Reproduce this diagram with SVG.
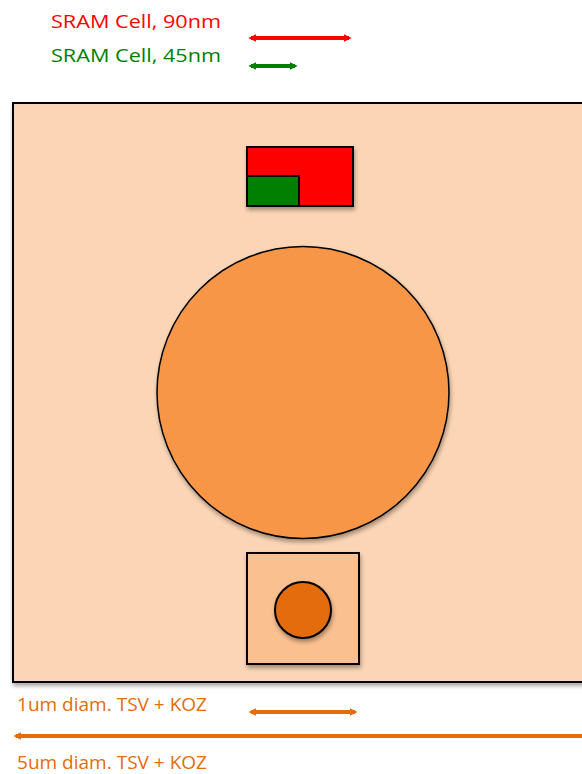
<svg xmlns="http://www.w3.org/2000/svg" width="582" height="774" viewBox="0 0 582 774">
<defs>
<style>
.lbl{font-family:"Open Sans","Liberation Sans",sans-serif;font-size:19px}
.sh{filter:url(#shadow)}
</style>
<filter id="shadow" x="-10%" y="-10%" width="130%" height="130%">
<feGaussianBlur in="SourceAlpha" stdDeviation="2"/>
<feOffset dx="1" dy="3" result="b"/>
<feComponentTransfer><feFuncA type="linear" slope="0.35"/></feComponentTransfer>
<feMerge><feMergeNode/><feMergeNode in="SourceGraphic"/></feMerge>
</filter>
<marker id="aR" viewBox="0 0 6 6" refX="4" refY="3" markerWidth="2" markerHeight="2" orient="auto-start-reverse"><path d="M0,0 L6,3 L0,6 z" fill="#FF0000"/></marker>
<marker id="aG" viewBox="0 0 6 6" refX="4" refY="3" markerWidth="2" markerHeight="2" orient="auto-start-reverse"><path d="M0,0 L6,3 L0,6 z" fill="#007F00"/></marker>
<marker id="aO" viewBox="0 0 6 6" refX="4" refY="3" markerWidth="2" markerHeight="2" orient="auto-start-reverse"><path d="M0,0 L6,3 L0,6 z" fill="#E46C0A"/></marker>
</defs>
<rect width="582" height="774" fill="#FFFFFF"/>
<g id="die">
<rect class="sh" x="13" y="103" width="580" height="579" fill="#FBD5B5" stroke="#000" stroke-width="2"/>
</g>
<g id="sram90">
<rect class="sh" x="247" y="147" width="106" height="59" fill="#FF0000" stroke="#000" stroke-width="2"/>
</g>
<g id="sram45">
<rect x="247" y="176" width="52" height="30" fill="#007F00" stroke="#000" stroke-width="2"/>
</g>
<g id="tsv5">
<circle class="sh" cx="303" cy="392.5" r="146" fill="#F79646" stroke="#000" stroke-width="1.5"/>
</g>
<g id="koz1">
<rect class="sh" x="247" y="553" width="112" height="111" fill="#FAC090" stroke="#000" stroke-width="2"/>
</g>
<g id="tsv1">
<circle class="sh" cx="303" cy="610" r="28" fill="#E46C0A" stroke="#000" stroke-width="2"/>
</g>
<g id="legend">
<text class="lbl" x="51" y="28" fill="#FF0000" textLength="170" lengthAdjust="spacingAndGlyphs">SRAM Cell, 90nm</text>
<text class="lbl" x="51" y="62" fill="#007F00" textLength="170" lengthAdjust="spacingAndGlyphs">SRAM Cell, 45nm</text>
<text class="lbl" x="17" y="711" fill="#E46C0A" textLength="190" lengthAdjust="spacingAndGlyphs">1um diam. TSV + KOZ</text>
<text class="lbl" x="17" y="769" fill="#E46C0A" textLength="190" lengthAdjust="spacingAndGlyphs">5um diam. TSV + KOZ</text>
</g>
<g id="connectors" fill="none" stroke-width="4">
<line x1="251" y1="38" x2="349" y2="38" stroke="#FF0000" marker-start="url(#aR)" marker-end="url(#aR)"/>
<line x1="251" y1="66" x2="295" y2="66" stroke="#007F00" marker-start="url(#aG)" marker-end="url(#aG)"/>
<line x1="251" y1="712" x2="355" y2="712" stroke="#E46C0A" marker-start="url(#aO)" marker-end="url(#aO)"/>
<line x1="16" y1="736" x2="590" y2="736" stroke="#E46C0A" marker-start="url(#aO)"/>
</g>
</svg>
